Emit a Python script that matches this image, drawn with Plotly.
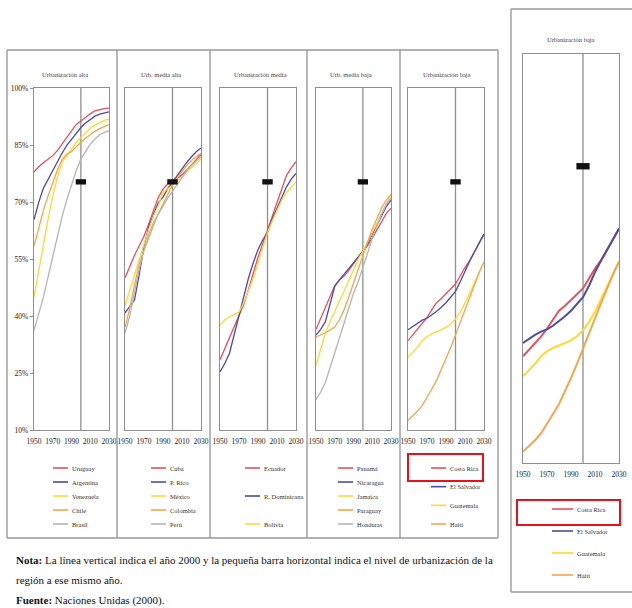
import plotly.graph_objects as go

# ---------------- data ----------------
years = list(range(1950, 2031, 5))
x_tick_vals = [1950, 1970, 1990, 2010, 2030]
x_tick_text = ["1950", "1970", "1990", "2010", "2030"]
y_tick_vals = [10, 25, 40, 55, 70, 85, 100]
y_tick_text = ["10%", "25%", "40%", "55%", "70%", "85%", "100%"]
marker_year = 2000
region_level_2000 = 75.3

titles = ["Urbanización alta", "Urb. media alta", "Urbanización media",
          "Urb. media baja", "Urbanización baja"]

# Urbanización alta
alta_names = ["Uruguay", "Argentina", "Venezuela", "Chile", "Brasil"]
uruguay = [77.9, 79.3, 80.3, 81.2, 82.2, 83.6, 85.3, 87.3, 89.0, 90.4, 91.3, 92.3, 93.2, 94.0, 94.4, 94.6, 94.7]
argentina = [65.3, 69.9, 73.6, 76.0, 78.4, 80.7, 82.9, 84.9, 86.5, 88.1, 89.6, 90.8, 91.8, 92.6, 93.1, 93.4, 93.7]
venezuela = [45.0, 52.0, 59.0, 65.5, 71.5, 76.5, 80.5, 82.3, 84.0, 85.6, 87.0, 88.3, 89.4, 90.3, 91.0, 91.5, 91.8]
chile = [58.4, 63.0, 67.8, 71.6, 75.2, 78.4, 81.2, 82.6, 83.3, 84.6, 85.7, 86.8, 87.8, 88.6, 89.3, 89.9, 90.4]
brasil = [36.2, 40.5, 44.9, 50.3, 55.8, 61.2, 66.2, 70.6, 74.7, 78.2, 81.3, 83.4, 85.2, 86.6, 87.7, 88.3, 88.7]

# Urb. media alta
media_alta_names = ["Cuba", "P. Rico", "México", "Colombia", "Perú"]
cuba = [50.0, 53.2, 56.0, 58.5, 61.0, 64.3, 68.0, 71.2, 73.4, 74.8, 75.3, 76.2, 77.2, 78.4, 79.8, 81.2, 82.5]
p_rico = [40.8, 42.5, 44.2, 51.0, 58.3, 63.5, 66.9, 69.8, 71.3, 73.5, 75.2, 77.0, 78.8, 80.4, 81.9, 83.2, 84.2]
mexico = [42.7, 46.5, 50.8, 54.9, 59.0, 62.8, 66.3, 69.0, 72.5, 73.4, 74.4, 75.5, 76.7, 77.9, 79.1, 80.3, 81.4]
colombia = [37.1, 42.0, 48.2, 53.8, 57.2, 60.7, 63.9, 66.9, 69.5, 72.1, 74.5, 76.4, 78.1, 79.6, 80.9, 82.0, 82.8]
peru = [35.5, 40.0, 46.3, 52.4, 57.4, 61.5, 64.6, 66.6, 68.9, 71.0, 72.8, 74.7, 76.5, 78.2, 79.6, 80.9, 82.0]

# Urbanización media
media_names = ["Ecuador", "R. Dominicana", "Bolivia"]
ecuador = [28.5, 31.5, 34.5, 37.3, 40.0, 43.0, 47.0, 51.5, 55.5, 59.0, 62.5, 66.5, 70.0, 73.5, 77.0, 79.0, 80.6]
r_dominicana = [25.3, 27.5, 30.2, 35.0, 40.0, 45.0, 50.0, 54.0, 57.5, 60.0, 62.0, 65.5, 68.5, 71.5, 74.0, 76.0, 77.5]
bolivia = [37.6, 39.0, 39.8, 40.5, 41.0, 43.5, 46.5, 50.0, 54.0, 58.0, 62.0, 65.0, 67.8, 70.5, 72.5, 74.0, 75.3]

# Urb. media baja
media_baja_names = ["Panamá", "Nicaragua", "Jamaica", "Paraguay", "Honduras"]
panama = [36.5, 39.5, 42.5, 45.5, 48.0, 49.5, 50.5, 52.0, 53.8, 55.5, 57.0, 58.5, 60.5, 62.7, 65.0, 67.0, 68.4]
nicaragua = [35.0, 36.5, 38.5, 43.5, 47.8, 49.5, 51.0, 52.5, 54.0, 55.5, 57.0, 59.0, 61.5, 64.0, 66.5, 68.8, 70.5]
jamaica = [27.0, 31.0, 35.5, 38.5, 41.5, 44.0, 46.5, 49.5, 52.5, 55.0, 57.0, 59.5, 62.0, 64.5, 67.0, 69.5, 71.8]
paraguay = [34.5, 35.0, 35.6, 36.3, 37.1, 39.0, 41.7, 45.0, 48.7, 52.5, 56.0, 59.5, 62.8, 65.8, 68.5, 70.5, 72.0]
honduras = [18.0, 20.0, 22.5, 26.5, 30.5, 34.5, 38.0, 42.0, 46.0, 49.0, 52.5, 56.5, 60.5, 64.0, 67.0, 69.5, 71.0]

# Urbanización baja
baja_names = ["Costa Rica", "El Salvador", "Guatemala", "Haití"]
costa_rica = [33.5, 35.0, 36.3, 37.8, 39.6, 41.6, 43.5, 44.6, 45.8, 47.2, 48.4, 50.6, 52.8, 54.6, 56.9, 59.2, 61.5]
el_salvador = [36.4, 37.3, 38.2, 38.9, 39.4, 40.2, 41.2, 42.3, 43.5, 45.0, 46.5, 49.0, 52.0, 54.5, 56.9, 59.2, 61.6]
guatemala = [29.1, 30.5, 31.8, 33.5, 34.6, 35.3, 35.8, 36.4, 37.0, 37.9, 39.2, 41.0, 43.3, 46.0, 48.8, 51.6, 54.3]
haiti = [12.5, 13.7, 15.0, 16.5, 18.5, 20.8, 23.0, 25.8, 28.7, 31.8, 35.0, 38.3, 41.8, 45.2, 48.5, 51.5, 54.3]

note_line1 = "<b>Nota:</b> La línea vertical indica el año 2000 y la pequeña barra horizontal indica el nivel de urbanización de la"
note_line2 = "región a ese mismo año."
note_line3 = "<b>Fuente:</b> Naciones Unidas (2000)."

# ---------------- style ----------------
RED, BLUE, YELLOW, ORANGE, GRAY = "#e8505b", "#4b4ba8", "#ffd92f", "#f5a64a", "#b5b5b5"
FRAME = "#8f8f8f"
FONT = "Liberation Serif"
W, H = 632, 608


def fx(x):
    return x / W


def fy(y):
    return 1 - y / H


panels = [
    (titles[0], alta_names, [uruguay, argentina, venezuela, chile, brasil], [RED, BLUE, YELLOW, ORANGE, GRAY]),
    (titles[1], media_alta_names, [cuba, p_rico, mexico, colombia, peru], [RED, BLUE, YELLOW, ORANGE, GRAY]),
    (titles[2], media_names, [ecuador, r_dominicana, bolivia], [RED, BLUE, YELLOW]),
    (titles[3], media_baja_names, [panama, nicaragua, jamaica, paraguay, honduras], [RED, BLUE, YELLOW, ORANGE, GRAY]),
    (titles[4], baja_names, [costa_rica, el_salvador, guatemala, haiti], [RED, BLUE, YELLOW, ORANGE]),
]

# pixel boxes for plot areas: (left, right, top, bottom)
boxes = [(34, 109, 88, 430), (125, 201, 88, 430), (220, 296, 88, 430),
         (316, 391, 88, 430), (408, 484, 88, 430), (523, 619, 54, 463)]
legend_text_x = [70, 168, 262, 355, 448]
title_centers = [65, 161, 260, 351, 447, 571]

fig = go.Figure()
layout = dict(width=W, height=H, autosize=False, margin=dict(l=0, r=0, t=0, b=0, pad=0),
              paper_bgcolor="white", plot_bgcolor="white", showlegend=False)
shapes = []
annotations = []

plot_specs = [(p, boxes[i]) for i, p in enumerate(panels)] + [(panels[4], boxes[5])]

for i, (panel, box) in enumerate(plot_specs):
    title, names, series, colors = panel
    ax = "" if i == 0 else str(i + 1)
    lw = 2.0 if i == 5 else 1.3
    for name, vals, col in zip(names, series, colors):
        fig.add_trace(go.Scatter(x=years, y=vals, mode="lines", name=name,
                                 line=dict(color=col, width=lw),
                                 xaxis="x" + ax, yaxis="y" + ax))
    l, r, t, b = box
    layout["xaxis" + ax] = dict(
        domain=[fx(l), fx(r)], range=[1950, 2030], anchor="y" + ax, automargin=False,
        showline=True, mirror=True, linecolor=FRAME, linewidth=1.3,
        showgrid=False, zeroline=False, tickvals=x_tick_vals, ticktext=x_tick_text,
        ticks="outside", ticklen=4, tickcolor="rgba(0,0,0,0)",
        tickfont=dict(family=FONT, size=7.5, color="#222"))
    layout["yaxis" + ax] = dict(
        domain=[fy(b), fy(t)], range=[10, 100], anchor="x" + ax, automargin=False,
        showline=True, mirror=True, linecolor=FRAME, linewidth=1.3,
        showgrid=False, zeroline=False, tickvals=y_tick_vals, ticktext=y_tick_text,
        showticklabels=(i == 0), ticks="outside" if i == 0 else "", ticklen=3,
        tickcolor=FRAME, tickfont=dict(family=FONT, size=7.5, color="#222"))
    # vertical 2000 line
    shapes.append(dict(type="line", xref="x" + ax, yref="y" + ax, x0=marker_year, x1=marker_year,
                       y0=10, y1=100, line=dict(color=FRAME, width=1.3), layer="below"))
    # regional level bar
    shapes.append(dict(type="rect", xref="x" + ax, yref="y" + ax,
                       x0=marker_year - 5.5, x1=marker_year + 5.5,
                       y0=region_level_2000 - 0.7, y1=region_level_2000 + 0.7,
                       fillcolor="#111", line=dict(width=0)))
    # title
    ty = 75 if i < 5 else 40
    annotations.append(dict(text=title, x=fx(title_centers[i]), y=fy(ty), xref="paper", yref="paper",
                            showarrow=False, xanchor="center", yanchor="middle",
                            font=dict(family=FONT, size=6.5, color="#444")))
    # legend
    n = len(names)
    if i < 5:
        ys = [468 + k * (524 - 468) / (n - 1) for k in range(n)]
        tx = legend_text_x[i]
        seg = 15
    else:
        ys = [509 + k * (575 - 509) / (n - 1) for k in range(n)]
        tx = 575
        seg = 21
    for name, col, yy in zip(names, colors, ys):
        shapes.append(dict(type="line", xref="paper", yref="paper", x0=fx(tx - seg - 2), x1=fx(tx - 2),
                           y0=fy(yy), y1=fy(yy), line=dict(color=col, width=1.6)))
        annotations.append(dict(text=name, x=fx(tx), y=fy(yy), xref="paper", yref="paper",
                                showarrow=False, xanchor="left", yanchor="middle",
                                font=dict(family=FONT, size=6.5, color="#333")))

# frames
def pline(x0, y0, x1, y1, color="#9a9a9a", width=1.4):
    shapes.append(dict(type="line", xref="paper", yref="paper", x0=fx(x0), y0=fy(y0),
                       x1=fx(x1), y1=fy(y1), line=dict(color=color, width=width)))

pline(7, 50, 498, 50)
pline(7, 538, 498, 538)
pline(7, 50, 7, 538)
pline(498, 50, 498, 538)
for sx in [117, 210, 307, 400]:
    pline(sx, 50, sx, 538)
pline(511, 9, 632, 9)
pline(511, 9, 511, 592)
pline(511, 592, 632, 592)

# red highlight boxes
shapes.append(dict(type="rect", xref="paper", yref="paper", x0=fx(408), x1=fx(483),
                   y0=fy(481), y1=fy(454), line=dict(color="#e8111a", width=2)))
shapes.append(dict(type="rect", xref="paper", yref="paper", x0=fx(517), x1=fx(620),
                   y0=fy(525), y1=fy(500), line=dict(color="#e8111a", width=2)))

# notes
for txt, yy in [(note_line1, 560), (note_line2, 580), (note_line3, 600)]:
    annotations.append(dict(text=txt, x=fx(14), y=fy(yy), xref="paper", yref="paper",
                            showarrow=False, xanchor="left", yanchor="middle",
                            font=dict(family=FONT, size=11, color="#111")))

layout["shapes"] = shapes
layout["annotations"] = annotations
fig.update_layout(**layout)
fig.write_html("out.html", config={"displayModeBar": False},
               post_script="document.body.style.margin='0';")
